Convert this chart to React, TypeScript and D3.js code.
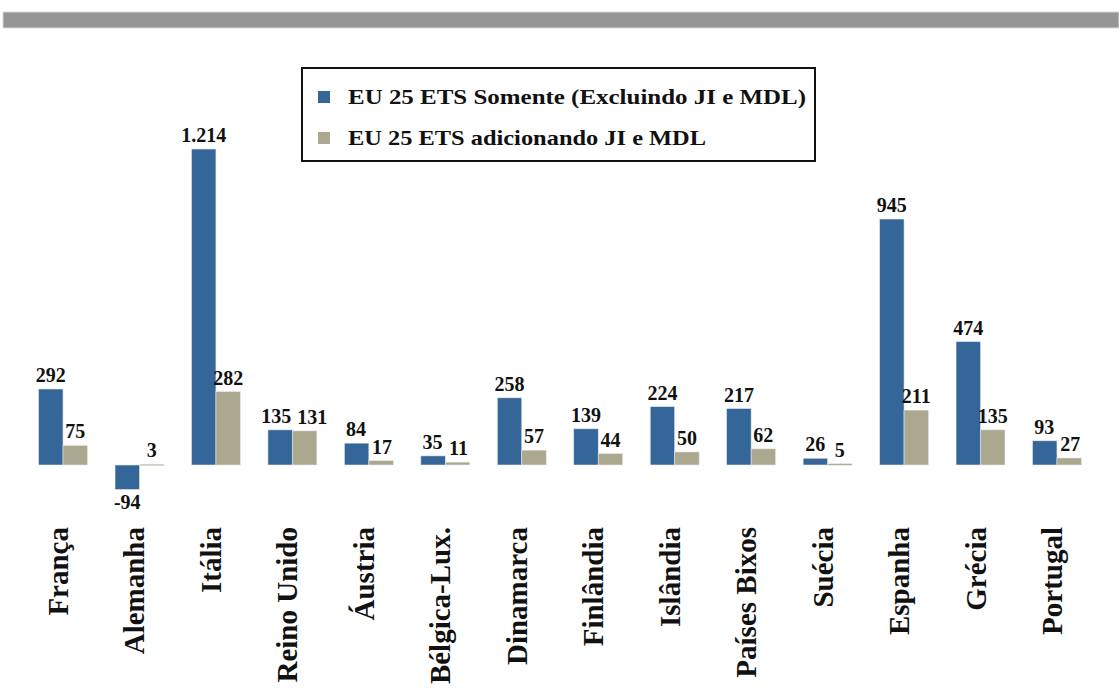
import React from "react";
import * as d3 from "d3";

const countries = [
  "França",
  "Alemanha",
  "Itália",
  "Reino Unido",
  "Áustria",
  "Bélgica-Lux.",
  "Dinamarca",
  "Finlândia",
  "Islândia",
  "Países Bixos",
  "Suécia",
  "Espanha",
  "Grécia",
  "Portugal",
];

const etsOnly = [292, -94, 1214, 135, 84, 35, 258, 139, 224, 217, 26, 945, 474, 93];
const etsWithJiMdl = [75, 3, 282, 131, 17, 11, 57, 44, 50, 62, 5, 211, 135, 27];

const seriesNames = [
  "EU 25 ETS Somente (Excluindo JI e MDL)",
  "EU 25 ETS adicionando JI e MDL",
];
const seriesColors = ["#346699", "#aca78f"];

const W = 1119;
const H = 689;
const FONT = "'Liberation Serif', 'Times New Roman', serif";

const fmt = (v: number) => (Math.abs(v) >= 1000 ? d3.format(",")(v).replace(",", ".") : String(v));

export default function App() {
  const x0 = d3
    .scaleBand<string>()
    .domain(countries)
    .range([24.8, 1095.2])
    .paddingInner(0.36)
    .paddingOuter(0.18);
  const x1 = d3
    .scaleBand<number>()
    .domain([0, 1])
    .range([0, x0.bandwidth()]);
  const y = d3.scaleLinear().domain([0, 1214]).range([465, 149]);

  const series = [etsOnly, etsWithJiMdl];
  const labelSize = 20;

  // Rough text width estimate so adjacent value labels at similar heights can be pushed apart.
  const textW = (s: string) => s.length * labelSize * 0.5;

  return (
    <svg
      width={W}
      height={H}
      style={{ position: "absolute", left: 0, top: 0, background: "#fff" }}
      fontFamily={FONT}
    >
      {/* header band */}
      <rect x={3} y={12} width={W - 3} height={16} fill="#959595" stroke="#d8d8d8" strokeWidth={1} />

      {/* legend */}
      <rect x={302} y={68} width={513} height={93} fill="#fff" stroke="#111" strokeWidth={2} />
      {seriesNames.map((name, i) => (
        <g key={name} transform={`translate(318, ${91 + i * 41})`}>
          <rect width={12} height={12} fill={seriesColors[i]} />
          <text
            x={30}
            y={13}
            fontSize={21}
            fontWeight="bold"
            fill="#111"
            fontFamily={FONT}
            textLength={i === 0 ? 458 : 358}
            lengthAdjust="spacingAndGlyphs"
          >
            {name}
          </text>
        </g>
      ))}

      {/* bars */}
      {countries.map((c, ci) => {
        const bw = x1.bandwidth();
        const a = etsOnly[ci];
        const b = etsWithJiMdl[ci];
        // push labels apart when both sit at about the same height and would collide
        let shiftA = 0;
        let shiftB = 0;
        if (a >= 0 && b >= 0 && Math.abs(y(a) - y(b)) < labelSize) {
          const need = (textW(fmt(a)) + textW(fmt(b))) / 2 + 6 - bw;
          if (need > 0) {
            shiftA = -need / 3;
            shiftB = (2 * need) / 3;
          }
        }
        const shifts = [shiftA, shiftB];
        return (
          <g key={c} transform={`translate(${x0(c)}, 0)`}>
            {series.map((vals, si) => {
              const v = vals[ci];
              const top = y(Math.max(0, v));
              const bottom = y(Math.min(0, v));
              const bx = x1(si) as number;
              return (
                <g key={si}>
                  <rect
                    x={bx}
                    y={top}
                    width={bw}
                    height={Math.max(1.5, bottom - top)}
                    fill={seriesColors[si]}
                    stroke="#e6e6e6"
                    strokeWidth={0.6}
                  />
                  <text
                    x={bx + bw / 2 + shifts[si]}
                    y={v >= 0 ? top - 7 : bottom + 20}
                    textAnchor="middle"
                    fontSize={labelSize}
                    fontWeight="bold"
                    fill="#111"
                    fontFamily={FONT}
                  >
                    {fmt(v)}
                  </text>
                </g>
              );
            })}
            <text
              transform={`translate(${x0.bandwidth() / 2 + 5}, 527) rotate(-90)`}
              textAnchor="end"
              fontSize={29}
              fontWeight="bold"
              fill="#111"
              fontFamily={FONT}
            >
              {c}
            </text>
          </g>
        );
      })}
    </svg>
  );
}
